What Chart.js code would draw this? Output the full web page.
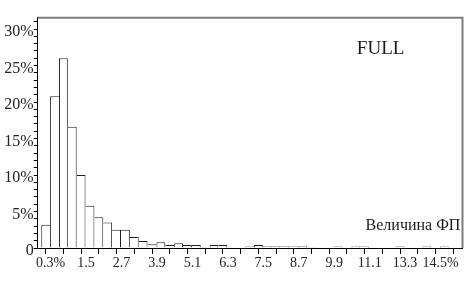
<!DOCTYPE html>
<html>
<head>
<meta charset="utf-8">
<script src="https://cdn.jsdelivr.net/npm/chart.js@4"></script>
<style>
  body { margin: 0; background: #fff; }
  canvas { display: block; }
</style>
</head>
<body>
<canvas id="myChart" width="473" height="285"></canvas>
<script>
// share of cases per 0.3% bin (bin 0 = first bar)
const values = [3.2, 20.8, 26.0, 16.6, 10.0, 5.8, 4.2, 3.5, 2.5, 2.5,
                1.5, 0.95, 0.5, 0.8, 0.4, 0.65, 0.4, 0.4, 0.1, 0.4,
                0.4, 0.08, 0.08, 0.2, 0.4, 0.25, 0.25, 0.25, 0.2, 0.25,
                0.1, 0, 0, 0.2, 0, 0.2, 0.2, 0, 0, 0,
                0.2, 0, 0, 0.2, 0, 0.2, 0, 0];
// labels under every 4th bin
const xLabels = ['0.3%', '1.5', '2.7', '3.9', '5.1', '6.3', '7.5', '8.7', '9.9', '11.1', '13.3', '14.5%'];
const yValues = [0, 5, 10, 15, 20, 25, 30];
const yLabels = ['0', '5%', '10%', '15%', '20%', '25%', '30%'];
const seriesName = 'FULL';
const axisTitle = 'Величина ФП';

const serif = 'Liberation Serif';

// draw border only on the taller side between neighbouring bars
function sides(ctx) {
  const i = ctx.dataIndex;
  const v = values[i];
  const prev = i > 0 ? values[i - 1] : 0;
  const next = i < values.length - 1 ? values[i + 1] : 0;
  return { top: 1, bottom: 0, left: v > prev ? 1 : 0, right: v >= next ? 1 : 0 };
}

const frame = {
  id: 'frame',
  afterDraw(chart) {
    const c = chart.ctx, a = chart.chartArea;
    const x = chart.scales.x, y = chart.scales.y;
    c.save();
    c.strokeStyle = '#7d7d7d';
    c.lineWidth = 2;
    c.beginPath();
    c.moveTo(a.left, a.top);
    c.lineTo(a.right, a.top);
    c.lineTo(a.right, a.bottom);
    c.stroke();
    c.fillStyle = '#1a1a1a';
    c.textBaseline = 'middle';
    c.textAlign = 'center';
    c.font = '19px "' + serif + '"';
    c.fillText(seriesName, x.getPixelForValue(37.8), y.getPixelForValue(27.3));
    c.textAlign = 'right';
    c.font = '16px "' + serif + '"';
    c.fillText(axisTitle, x.getPixelForValue(46.8), y.getPixelForValue(3.1));
    c.restore();
  }
};

new Chart(document.getElementById('myChart'), {
  type: 'bar',
  data: {
    datasets: [{
      data: values.map((v, i) => ({ x: i, y: v })),
      backgroundColor: '#ffffff',
      borderColor: '#1e1e1e',
      borderWidth: sides,
      borderSkipped: false,
      inflateAmount: 0,
      barPercentage: 1,
      categoryPercentage: 1
    }]
  },
  options: {
    responsive: false,
    animation: false,
    layout: { padding: { top: 17.7, right: 10.5, left: 0, bottom: 0 } },
    plugins: { legend: { display: false }, tooltip: { enabled: false } },
    scales: {
      x: {
        type: 'linear',
        offset: false,
        min: -0.9,
        max: 47.04,
        afterBuildTicks: s => { s.ticks = values.filter((v, i) => i % 2 === 0).map((v, k) => ({ value: k * 2 })); },
        afterFit: s => { s.height = 37; },
        grid: { drawOnChartArea: false, offset: false, tickLength: 6, color: '#000' },
        border: { color: '#000', width: 1 },
        ticks: {
          autoSkip: false,
          maxRotation: 0,
          padding: 1,
          labelOffset: 5,
          color: '#222',
          font: { family: serif, size: 14 },
          callback: v => (v % 4 === 0 && xLabels[v / 4]) ? xLabels[v / 4] : ''
        }
      },
      y: {
        min: 0,
        max: 31.55,
        afterBuildTicks: s => { s.ticks = []; for (let t = 0; t <= 31; t++) s.ticks.push({ value: t }); },
        afterFit: s => { s.width = 37.7; },
        grid: { drawOnChartArea: false, tickLength: 4, color: '#000' },
        border: { color: '#000', width: 1 },
        ticks: {
          autoSkip: false,
          padding: 0,
          labelOffset: 3,
          color: '#222',
          font: { family: serif, size: 16 },
          callback: v => yValues.indexOf(v) >= 0 ? yLabels[yValues.indexOf(v)] : ''
        }
      }
    }
  },
  plugins: [frame]
});
</script>
</body>
</html>
